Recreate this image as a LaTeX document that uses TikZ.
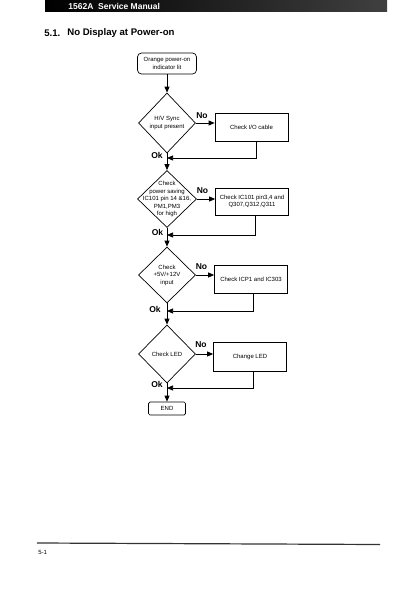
\documentclass[tikz,border=0pt]{standalone}
\usepackage{fontspec}
\setmainfont{Liberation Sans}
\usetikzlibrary{shapes.geometric,arrows.meta}
\begin{document}
\begin{tikzpicture}[x=1pt,y=-1pt,
  line width=0.7pt,
  arr/.style={-{Triangle[length=6pt,width=5pt]}},
  small/.style={font=\fontsize{6}{7.5}\selectfont},
  box/.style={draw, small, minimum width=73pt, minimum height=28pt, inner sep=1pt, align=center},
  dia/.style={draw, diamond, inner sep=0pt},
  dtext/.style={small, align=center, inner sep=0pt},
  lbl/.style={font=\bfseries\fontsize{8.5}{9}\selectfont, inner sep=0pt}]
\useasboundingbox (0,0) rectangle (400,594);
% header
\shade[left color=black, right color=black!75] (45,0) rectangle (387,12);
\node[anchor=west, text=white, font=\bfseries\fontsize{8.5}{9}\selectfont, inner sep=0pt] (hdr) at (68,6) {1562A\ \ Service Manual};
% title
\node[anchor=west, font=\bfseries\fontsize{9.6}{11}\selectfont, inner sep=0pt] (tnum) at (44,33) {5.1.};
\node[anchor=west, font=\bfseries\fontsize{9.6}{11}\selectfont, inner sep=0pt] (title) at (67,33) {No Display at Power-on};
% start
\node[draw, small, rounded corners=4pt, minimum width=59pt, minimum height=21pt, align=center, inner sep=1pt] (start) at (167,63.5) {Orange power-on\\indicator lit};
% diamonds
\node[dia, minimum width=57pt, minimum height=60pt] (d1) at (167,123) {};
\node[dtext] (d1t) at (d1) {H/V Sync\\input present};
\node[dia, minimum width=59pt, minimum height=57pt] (d2) at (167,199) {};
\node[dtext] (d2t) at (d2) {Check\\power saving\\IC101 pin 14 \&16,\\PM1,PM3\\for high};
\node[dia, minimum width=57pt, minimum height=56pt] (d3) at (167,275) {};
\node[dtext] (d3t) at (d3) {Check\\+5V/+12V\\input};
\node[dia, minimum width=57pt, minimum height=58pt] (d4) at (167,354) {};
\node[dtext] (d4t) at (d4) {Check LED};
% boxes
\node[box] (b1) at (251.5,127) {Check I/O cable};
\node[box, minimum height=27pt] (b2) at (252,201.5) {Check IC101 pin3,4 and\\Q307,Q312,Q311};
\node[box] (b3) at (251,279) {Check ICP1 and IC303};
\node[box, minimum height=29pt] (b4) at (250,356.5) {Change LED};
% end
\node[draw, small, rounded corners=1.5pt, minimum width=37pt, minimum height=13pt, inner sep=0pt] (end) at (167,408.5) {END};
% main flow
\draw[arr] (start) -- (d1);
\draw[arr] (d1) -- (d2);
\draw[arr] (d2) -- (d3);
\draw[arr] (d3) -- (d4);
\draw[arr] (d4) -- (end);
% no branches
\draw[arr] (d1.east) -- (d1.east -| b1.west);
\draw[arr] (d2.east) -- (d2.east -| b2.west);
\draw[arr] (d3.east) -- (d3.east -| b3.west);
\draw[arr] (d4.east) -- (d4.east -| b4.west);
% returns
\coordinate (m1) at (167,158);
\coordinate (m2) at (167,235);
\coordinate (m3) at (167,311);
\coordinate (m4) at (167,388);
\draw[arr] ([xshift=4.5pt]b1.south) |- (m1);
\draw[arr] ([xshift=3pt]b2.south) |- (m2);
\draw[arr] ([xshift=2pt]b3.south) |- (m3);
\draw[arr] ([xshift=3pt]b4.south) |- (m4);
% labels
\node[lbl] (no1) at (202,115.5) {No};
\node[lbl] (no2) at (202.5,191) {No};
\node[lbl] (no3) at (201.5,267) {No};
\node[lbl] (no4) at (201,345) {No};
\node[lbl] (ok1) at (157,155) {Ok};
\node[lbl] (ok2) at (157.5,232) {Ok};
\node[lbl] (ok3) at (155,309.5) {Ok};
\node[lbl] (ok4) at (157,384) {Ok};
% footer
\draw[line width=1.2pt, black!80] (37,543) -- (380,544.5);
\node[anchor=west, font=\fontsize{6}{7}\selectfont, inner sep=0pt] (pg) at (38,552) {5-1};
\end{tikzpicture}
\end{document}
